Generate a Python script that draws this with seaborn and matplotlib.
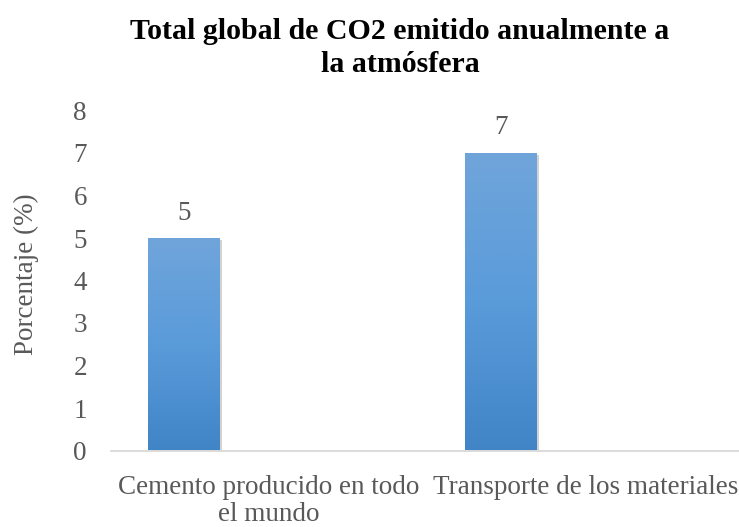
import matplotlib
matplotlib.use("Agg")
import matplotlib.pyplot as plt
import matplotlib.patheffects as pe
from matplotlib.colors import LinearSegmentedColormap
import seaborn as sns
import pandas as pd
import numpy as np

# ---- data ----
categories = ["Cemento producido en todo\nel mundo", "Transporte de los materiales"]
values = [5, 7]
series_levels = ["Serie 1", "Serie 2", "Serie 3"]  # Serie 2/3 empty (Excel layout)
y_ticks = [0, 1, 2, 3, 4, 5, 6, 7, 8]
title = "Total global de CO2 emitido anualmente a\nla atmósfera"
y_label = "Porcentaje (%)"

sns.set_theme(style="white")
plt.rcParams['font.family'] = ['Liberation Serif', 'DejaVu Serif']

TXT = "#595959"
FS = 19.5
W, H = 739, 527
fig = plt.figure(figsize=(W / 100, H / 100), dpi=100)
ax = fig.add_axes([110.5 / W, 76.5 / H, 634 / W, 340 / H])

df = pd.DataFrame({"cat": categories, "val": values, "serie": series_levels[0]})
sns.barplot(data=df, x="cat", y="val", hue="serie", hue_order=series_levels,
            palette=["#5B9BD5", "#ED7D31", "#A5A5A5"], width=0.804, gap=0.153,
            dodge=True, legend=False, errorbar=None, ax=ax, zorder=3)

# gradient fill + soft shadow
cmap = LinearSegmentedColormap.from_list("g", ["#4185C7", "#5A9BDA", "#70A5DA"])
grad = np.linspace(0, 1, 256).reshape(-1, 1)
for p in list(ax.patches):
    h = p.get_height()
    if not np.isfinite(h) or h == 0:
        continue
    x0 = p.get_x()
    w = p.get_width()
    p.set_facecolor("none")
    p.set_edgecolor("none")
    p.set_path_effects([pe.SimplePatchShadow(offset=(1.2, -1.2), shadow_rgbFace="#808080", alpha=0.35)])
    im = ax.imshow(grad, cmap=cmap, aspect="auto", origin="lower",
                   extent=(x0, x0 + w, 0, h), zorder=3)
    im.set_clip_path(p)

for c in ax.containers:
    ax.bar_label(c, fmt="%g", padding=9, fontsize=FS, color=TXT)

ax.set_xlim(-0.5, 1.5)
ax.set_ylim(0, 8)
ax.set_yticks(y_ticks)
ax.set_xlabel("")
ax.set_ylabel(y_label, fontsize=FS, color=TXT)
ax.yaxis.set_label_coords(-0.113, 0.52)

ax.tick_params(axis="y", length=0, pad=17, labelsize=FS, labelcolor=TXT)
ax.tick_params(axis="x", length=0, pad=18, labelsize=FS, labelcolor=TXT)
for lab in ax.get_xticklabels():
    lab.set_linespacing(1.1)
    lab.set_ha("center")

for s in ["top", "right", "left"]:
    ax.spines[s].set_visible(False)
ax.spines["bottom"].set_color("#d9d9d9")
ax.spines["bottom"].set_linewidth(1.3)
ax.spines["bottom"].set_zorder(4)

fig.text(400 / W, 1 - 48 / H, title, ha="center", va="center", fontsize=21.5,
         fontweight="bold", color="black", linespacing=1.3)

fig.savefig("out.png", dpi=100)
